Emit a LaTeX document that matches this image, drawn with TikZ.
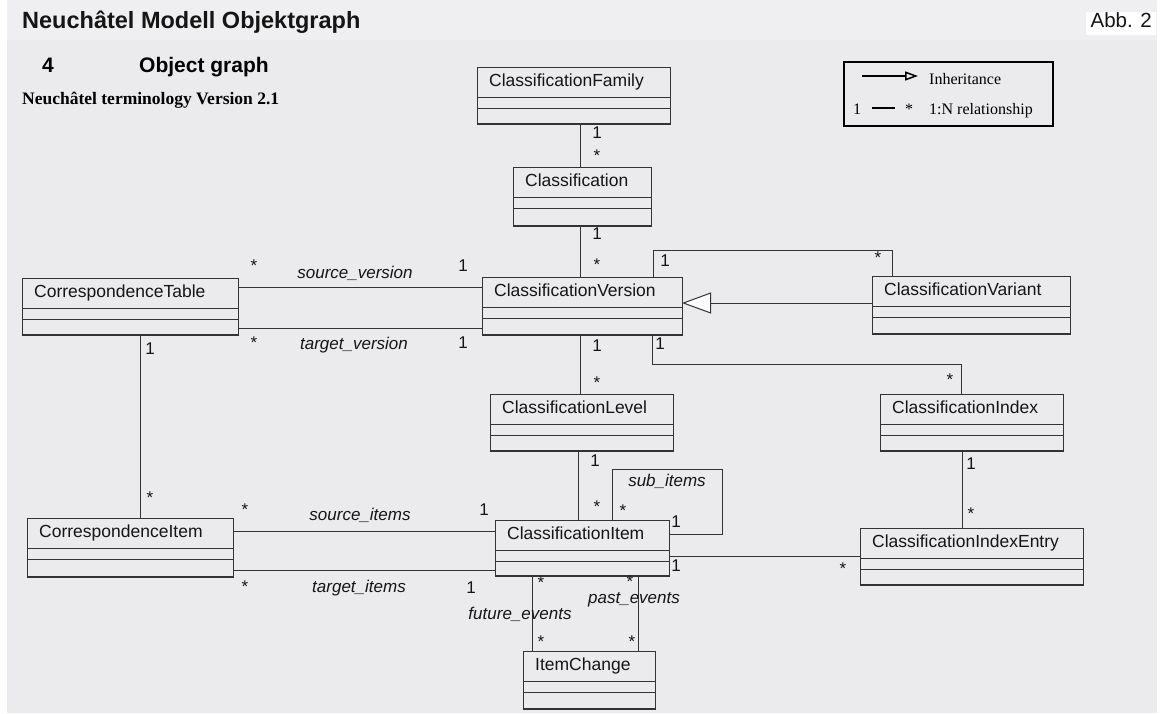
\documentclass[tikz,border=0pt]{standalone}
\usepackage{fontspec}
\setmainfont{Liberation Sans}
\newfontfamily\serifft{Liberation Serif}
\usetikzlibrary{arrows.meta,calc}

\definecolor{panel}{HTML}{EBEBED}
\definecolor{panelTop}{HTML}{EFEFF1}
\definecolor{ink}{HTML}{151515}
\definecolor{edge}{HTML}{333333}

\tikzset{
  clsbox/.style={draw=edge, line width=1pt, inner sep=0pt, outer sep=0pt, rectangle},
  clsname/.style={font=\fontsize{17.5}{20}\selectfont, text=ink, inner sep=0pt, anchor=west, text height=0.72em, text depth=0.2em},
  assoc/.style={draw=edge, line width=1pt},
  mult/.style={font=\fontsize{17}{20}\selectfont, text=ink, inner sep=0pt, text height=0.72em, text depth=0.2em},
  role/.style={font=\fontsize{17}{20}\selectfont\itshape, text=ink, inner sep=0pt, text height=0.72em, text depth=0.2em},
  legtext/.style={font=\serifft\fontsize{16}{18}\selectfont, text=black, inner sep=0pt, anchor=base west},
}

\newcommand\umlclass[6]{%
  \node[clsbox, minimum width=#4pt, minimum height=#5pt, anchor=north west] (#1) at (#2,#3) {};
  \draw[edge, line width=1pt] ([yshift=-30pt]#1.north west) -- ([yshift=-30pt]#1.north east)
    ([yshift=-41pt]#1.north west) -- ([yshift=-41pt]#1.north east);
  \draw[edge, line width=2pt] ([xshift=-0.5pt]#1.south west) -- ([xshift=0.5pt]#1.south east);
  \node[clsname] (#1-name) at ([xshift=12pt,yshift=-17pt]#1.north west) {#6};
}

\begin{document}
\begin{tikzpicture}[x=1pt,y=-1pt]
\useasboundingbox (0,0) rectangle (1168,713);
\fill[white] (0,0) rectangle (1168,713);
\fill[panel] (7,0) rectangle (1157,713);
\fill[panelTop] (7,0) rectangle (1157,40);

% headings
\node[anchor=base west, inner sep=0pt, font=\bfseries\fontsize{23.5}{26}\selectfont, text=ink] (title) at (22,28.5) {Neuchâtel Modell Objektgraph};
\node[fill=white, inner sep=0pt, minimum width=70pt, minimum height=23pt, anchor=north west,
      font=\fontsize{20.5}{22}\selectfont, text=ink, text height=0.72em, text depth=0pt] (abb) at (1086,12) {Abb. 2};
\node[anchor=base west, inner sep=0pt, font=\bfseries\fontsize{21}{24}\selectfont, text=black] (secnum) at (42,72.5) {4};
\node[anchor=base west, inner sep=0pt, font=\bfseries\fontsize{21}{24}\selectfont, text=black] (sectitle) at (139,72.5) {Object graph};
\node[anchor=base west, inner sep=0pt, font=\serifft\bfseries\fontsize{17.5}{19}\selectfont, text=black] (subtitle) at (22,104) {Neuchâtel terminology Version 2.1};

% legend
\node[draw=black, line width=1.5pt, inner sep=0pt, minimum width=209pt, minimum height=64pt, anchor=north west] (leg) at (843,61) {};
\coordinate (la1) at (862,76);
\coordinate (la2) at (918,76);
\draw[line width=2.5pt, -{Triangle[open, length=13pt, width=9pt, line width=1.5pt]}] (la1) -- (la2);
\node[legtext] (legInh) at (929,84) {Inheritance};
\node[legtext] (legOne) at (853,114) {1};
\coordinate (lb1) at (872,108);
\coordinate (lb2) at (895,108);
\draw[line width=2pt] (lb1) -- (lb2);
\node[legtext] (legStar) at (905,114) {*};
\node[legtext] (legRel) at (929,114) {1:N relationship};

% classes
\umlclass{cf}{477}{67}{193}{57}{ClassificationFamily}
\umlclass{cl}{513}{167}{138}{59}{Classification}
\umlclass{cv}{482}{277}{200}{58}{ClassificationVersion}
\umlclass{ct}{22}{278}{216}{57}{CorrespondenceTable}
\umlclass{var}{872}{276}{198}{58}{ClassificationVariant}
\umlclass{lev}{490}{394}{183}{57}{ClassificationLevel}
\umlclass{idx}{880}{394}{183}{57}{ClassificationIndex}
\umlclass{it}{495}{520}{174}{56}{ClassificationItem}
\umlclass{ci}{27}{518}{206}{59}{CorrespondenceItem}
\umlclass{ie}{860}{528}{223}{57}{ClassificationIndexEntry}
\umlclass{ic}{523}{651}{132}{58}{ItemChange}

% guide coordinates
\coordinate (x580) at (580,0);
\coordinate (x578) at (578,0);
\coordinate (x140) at (140,0);
\coordinate (x962) at (962,0);
\coordinate (x532) at (532,0);
\coordinate (x638) at (638,0);
\coordinate (y287) at (0,287);
\coordinate (y328) at (0,328);
\coordinate (y531) at (0,531);
\coordinate (y570) at (0,570);
\coordinate (y556) at (0,556);
\coordinate (y303) at (0,303);
\coordinate (vv1) at (653,250);
\coordinate (vv2) at (892,250);
\coordinate (vi1) at (652,364);
\coordinate (vi2) at (961,364);
\coordinate (sl1) at (612,469);
\coordinate (sl2) at (722,534);

% connectors
\draw[assoc] (cf.south -| x580) -- (cl.north -| x580);
\draw[assoc] (cl.south -| x580) -- (cv.north -| x580);
\draw[assoc] (cv.south -| x580) -- (lev.north -| x580);
\draw[assoc] (lev.south -| x578) -- (it.north -| x578);
\draw[assoc] (ct.east |- y287) -- (cv.west |- y287);
\draw[assoc] (ct.east |- y328) -- (cv.west |- y328);
\draw[assoc] (ct.south -| x140) -- (ci.north -| x140);
\draw[assoc] (ci.east |- y531) -- (it.west |- y531);
\draw[assoc] (ci.east |- y570) -- (it.west |- y570);
\draw[assoc, -{Triangle[open, fill=white, length=29pt, width=21pt]}] (var.west |- y303) -- (cv.east |- y303);
\draw[assoc] (cv.north -| vv1) -- (vv1) -- (vv2) -- (var.north -| vv2);
\draw[assoc] (cv.south -| vi1) -- (vi1) -- (vi2) -- (idx.north -| vi2);
\draw[assoc] (idx.south -| x962) -- (ie.north -| x962);
\draw[assoc] (it.east |- y556) -- (ie.west |- y556);
\draw[assoc] (it.north -| sl1) -- (sl1) -- (sl2 |- sl1) -- (sl2) -- (it.east |- sl2);
\draw[assoc] (it.south -| x532) -- (ic.north -| x532);
\draw[assoc] (it.south -| x638) -- (ic.north -| x638);

% multiplicities "1"
\node[mult] (m1) at (597,136) {1};
\node[mult] (m2) at (597,237) {1};
\node[mult] (m3) at (597,349) {1};
\node[mult] (m4) at (595,464) {1};
\node[mult] (m5) at (463,269) {1};
\node[mult] (m6) at (463,346) {1};
\node[mult] (m7) at (150,352) {1};
\node[mult] (m8) at (484,513) {1};
\node[mult] (m9) at (471,591) {1};
\node[mult] (m10) at (665,264) {1};
\node[mult] (m11) at (660,347) {1};
\node[mult] (m12) at (971,467) {1};
\node[mult] (m13) at (676,569) {1};
\node[mult] (m14) at (676,525) {1};

% multiplicities "*"
\node[mult] (s1) at (597,158.5) {*};
\node[mult] (s2) at (597,267.5) {*};
\node[mult] (s3) at (597,385.5) {*};
\node[mult] (s4) at (597,509.5) {*};
\node[mult] (s5) at (254,268.5) {*};
\node[mult] (s6) at (254,345.5) {*};
\node[mult] (s7) at (150,500.5) {*};
\node[mult] (s8) at (245,512.5) {*};
\node[mult] (s9) at (245,589.5) {*};
\node[mult] (s10) at (878,260.5) {*};
\node[mult] (s11) at (950,382.5) {*};
\node[mult] (s12) at (971,516.5) {*};
\node[mult] (s13) at (843,571.5) {*};
\node[mult] (s14) at (623,513.5) {*};
\node[mult] (s15) at (541,585.5) {*};
\node[mult] (s16) at (541,644.5) {*};
\node[mult] (s17) at (630,584.5) {*};
\node[mult] (s18) at (632,644.5) {*};

% role names
\node[role] (r1) at (355,276) {source\_version};
\node[role] (r2) at (354,347) {target\_version};
\node[role] (r3) at (360,518) {source\_items};
\node[role] (r4) at (359,590) {target\_items};
\node[role] (r5) at (667,484) {sub\_items};
\node[role] (r6) at (520,617) {future\_events};
\node[role] (r7) at (634,601) {past\_events};
\end{tikzpicture}
\end{document}
